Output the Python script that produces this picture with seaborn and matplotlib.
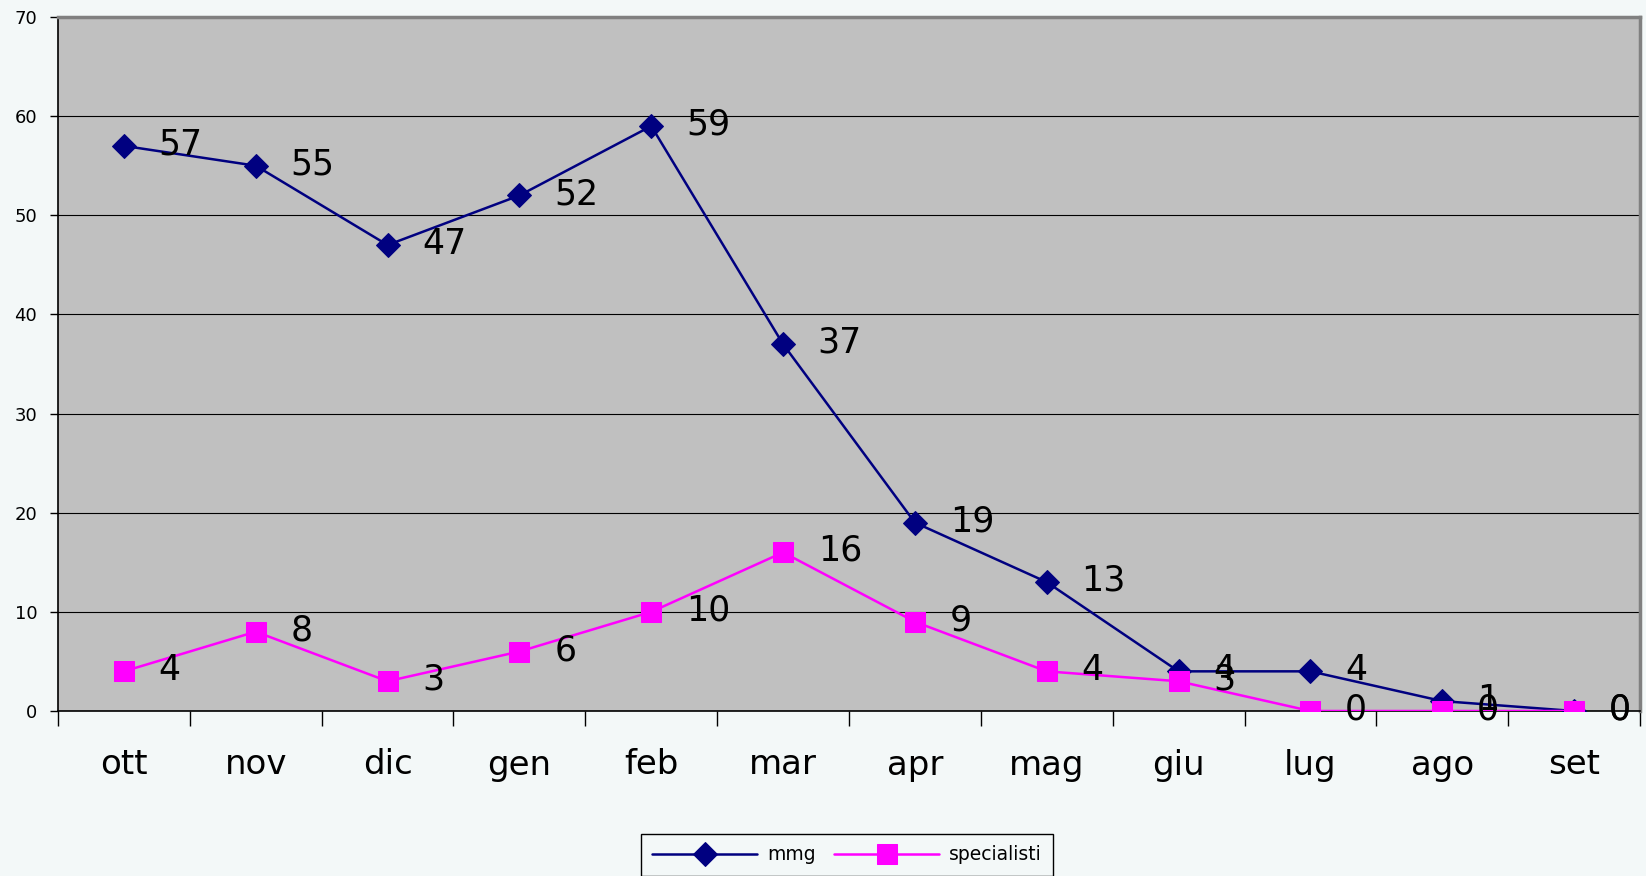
import matplotlib
matplotlib.use("Agg")
import matplotlib.pyplot as plt
import seaborn as sns
import pandas as pd
import numpy as np
from matplotlib.ticker import FixedLocator

months = ["ott", "nov", "dic", "gen", "feb", "mar", "apr", "mag", "giu", "lug", "ago", "set"]
mmg = [57, 55, 47, 52, 59, 37, 19, 13, 4, 4, 1, 0]
specialisti = [4, 8, 3, 6, 10, 16, 9, 4, 3, 0, 0, 0]
y_ticks = [0, 10, 20, 30, 40, 50, 60, 70]

bg = "#F3F8F8"
sns.set_style("white")
plt.rcParams["font.family"] = ["DejaVu Sans"]
plt.rcParams["text.color"] = "black"
plt.rcParams["xtick.color"] = "black"
plt.rcParams["ytick.color"] = "black"

fig = plt.figure(figsize=(16.46, 8.76), dpi=100, facecolor=bg)
ax = fig.add_axes([58 / 1646, 1 - 711 / 876, (1640 - 58) / 1646, (711 - 17) / 876])
ax.set_facecolor("#C0C0C0")

pos = list(range(len(months)))
df_m = pd.DataFrame({"pos": pos, "val": mmg})
df_s = pd.DataFrame({"pos": pos, "val": specialisti})

sns.lineplot(data=df_m, x="pos", y="val", ax=ax, color="#000080", marker="D",
             markersize=12, markeredgecolor="#000080", linewidth=1.8, label="mmg", zorder=3)
sns.lineplot(data=df_s, x="pos", y="val", ax=ax, color="#FF00FF", marker="s",
             markersize=14, markeredgecolor="#FF00FF", linewidth=1.8, label="specialisti", zorder=3)

for x, v in zip(pos, mmg):
    ax.annotate(str(v), (x, v), xytext=(25, 1), textcoords="offset points",
                ha="left", va="center", fontsize=25, color="black", zorder=4)
for x, v in zip(pos, specialisti):
    ax.annotate(str(v), (x, v), xytext=(25, 1), textcoords="offset points",
                ha="left", va="center", fontsize=25, color="black", zorder=4)

ax.set_xlim(-0.5, len(months) - 0.5)
ax.set_ylim(0, 70)
ax.set_xlabel("")
ax.set_ylabel("")

ax.yaxis.set_major_locator(FixedLocator(y_ticks))
ax.set_yticklabels([str(t) for t in y_ticks], fontsize=13, color="black")
ax.tick_params(axis="y", direction="out", length=6, width=1, color="black", labelcolor="black", pad=9, left=True)
ax.grid(axis="y", color="black", linewidth=0.8)
ax.set_axisbelow(True)

ax.xaxis.set_major_locator(FixedLocator(np.arange(-0.5, len(months), 1.0)))
ax.xaxis.set_minor_locator(FixedLocator(pos))
ax.set_xticklabels([], minor=False)
ax.set_xticklabels(months, minor=True, fontsize=24.5, color="black")
ax.tick_params(axis="x", which="major", direction="out", length=11, width=1, color="black", bottom=True)
ax.tick_params(axis="x", which="minor", length=0, pad=27, labelcolor="black")

for s in ["left", "bottom"]:
    ax.spines[s].set_color("black")
    ax.spines[s].set_linewidth(1.2)
for s in ["top", "right"]:
    ax.spines[s].set_color("#808080")
    ax.spines[s].set_linewidth(2.5)

ax.get_legend().remove()
handles, labels = ax.get_legend_handles_labels()
leg = fig.legend(handles, labels, loc="upper center", bbox_to_anchor=(0.5145, 1 - 834 / 876),
                 bbox_transform=fig.transFigure, ncol=2, fontsize=13.5, frameon=True,
                 fancybox=False, edgecolor="black", facecolor=bg, framealpha=1,
                 handlelength=5.6, columnspacing=1.0, handletextpad=0.5, borderpad=0.6,
                 borderaxespad=0, labelcolor="black")
leg.get_frame().set_linewidth(1.0)

fig.savefig("out.png", dpi=100, facecolor=bg)
